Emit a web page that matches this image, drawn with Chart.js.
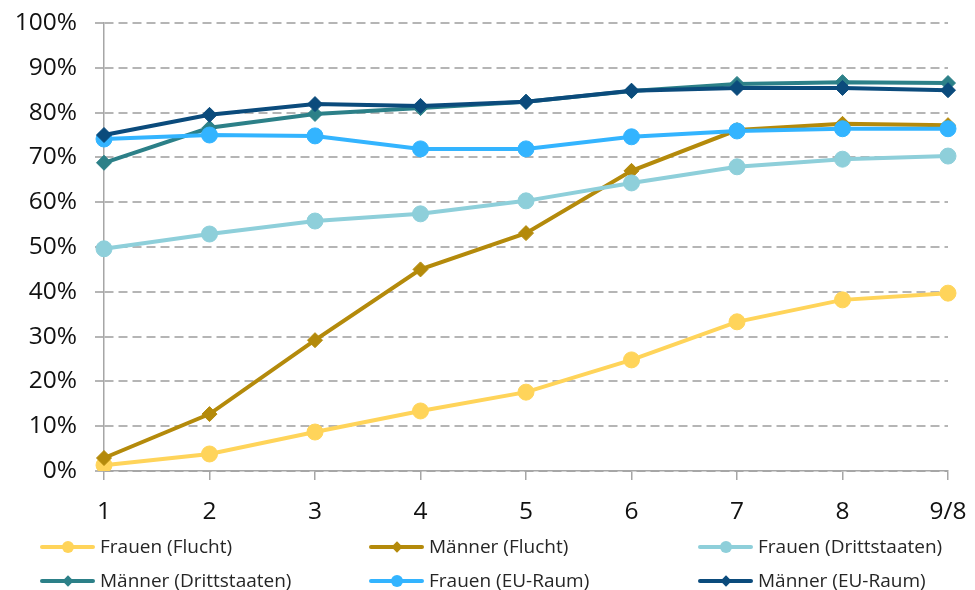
<!DOCTYPE html>
<html>
<head>
<meta charset="utf-8">
<script src="https://cdn.jsdelivr.net/npm/chart.js@4"></script>
<style>
    body { margin: 0; background: #fff; }
    #wrap { position: relative; width: 975px; height: 590px; }
    #legend { position: absolute; left: 0; top: 0; width: 975px; height: 590px; pointer-events: none;
        font-family: "Open Sans", sans-serif; font-size: 19px; color: #262626; }
    .item { position: absolute; height: 24px; line-height: 24px; white-space: nowrap; }
    .sw { position: absolute; left: 0; top: 10px; width: 55px; height: 4px; border-radius: 2px; }
    .mk { position: absolute; }
    .item span.txt { position: absolute; left: 60px; top: -1px; }
</style>
</head>
<body>
<div id="wrap">
    <canvas id="myChart" width="975" height="590"></canvas>
    <div id="legend"></div>
</div>
<script>
"use strict";

// categories and series (share in %)
const labels = ["1", "2", "3", "4", "5", "6", "7", "8", "9/8"];
const seriesNames = [
    "Frauen (Flucht)",
    "Männer (Flucht)",
    "Frauen (Drittstaaten)",
    "Männer (Drittstaaten)",
    "Frauen (EU-Raum)",
    "Männer (EU-Raum)"
];
const frauenFlucht = [1.3, 3.8, 8.7, 13.4, 17.6, 24.8, 33.3, 38.2, 39.7];
const maennerFlucht = [2.9, 12.7, 29.2, 45.0, 53.1, 67.0, 76.1, 77.5, 77.2];
const frauenDritt = [49.6, 52.9, 55.8, 57.4, 60.3, 64.3, 67.9, 69.6, 70.3];
const maennerDritt = [68.8, 76.6, 79.7, 81.0, 82.4, 84.8, 86.4, 86.8, 86.6];
const frauenEU = [74.1, 75.0, 74.8, 71.9, 71.9, 74.6, 75.9, 76.4, 76.4];
const maennerEU = [75.0, 79.5, 81.9, 81.5, 82.4, 84.9, 85.5, 85.5, 85.0];
const yTicks = [0, 10, 20, 30, 40, 50, 60, 70, 80, 90, 100];

const colors = ["#ffd45a", "#b48a0b", "#8ecfda", "#2c8088", "#33b4ff", "#0b4b7c"];
const values = [frauenFlucht, maennerFlucht, frauenDritt, maennerDritt, frauenEU, maennerEU];
const axisColor = "#a6a6a6";
const gridColor = "#b5b5b5";

let datasets = [];
for (let i = 0; i < values.length; i++) {
    const isMen = i % 2 === 1;
    datasets.push({
        label: seriesNames[i],
        data: values[i],
        borderColor: colors[i],
        backgroundColor: colors[i],
        borderWidth: 4,
        pointStyle: isMen ? "rectRot" : "circle",
        pointRadius: isMen ? 7.5 : 8,
        pointBorderWidth: 1,
        pointBorderColor: colors[i],
        pointBackgroundColor: colors[i],
        tension: 0,
        // excel draws the last series on top
        order: values.length - i
    });
}

const tickFont = { family: "'Open Sans', sans-serif", size: 24.5 };

var ctx = document.getElementById("myChart").getContext("2d");
let chart = new Chart(ctx, {
    type: "line",
    data: { labels: labels, datasets: datasets },
    options: {
        responsive: false,
        animation: false,
        layout: { padding: { top: 23, right: 27, bottom: 59, left: 0 } },
        plugins: { legend: { display: false }, tooltip: { enabled: false } },
        scales: {
            x: {
                offset: false,
                grid: {
                    drawOnChartArea: false,
                    drawTicks: true,
                    tickLength: 9,
                    color: axisColor,
                    lineWidth: 1.5
                },
                border: { display: true, color: axisColor, width: 1.5 },
                ticks: { color: "#111", font: tickFont, padding: 17, maxRotation: 0 },
                afterFit: function(scale) {
                    scale.height = 60;
                    scale.paddingLeft = 0;
                    scale.paddingRight = 0;
                }
            },
            y: {
                min: 0,
                max: 100,
                afterBuildTicks: function(scale) {
                    scale.ticks = yTicks.map(v => ({ value: v }));
                },
                grid: {
                    color: c => (c.tick && c.tick.value === 0 ? axisColor : gridColor),
                    lineWidth: 2,
                    tickLength: 9,
                    tickColor: gridColor,
                    tickWidth: 2
                },
                border: { display: true, color: axisColor, width: 1.5, dash: [9, 5] },
                ticks: {
                    color: "#111",
                    font: tickFont,
                    padding: 18,
                    callback: v => v + "%"
                },
                afterFit: function(scale) {
                    scale.width = 104;
                    scale.paddingTop = 0;
                    scale.paddingBottom = 0;
                }
            }
        }
    }
});

// legend in three columns like the original
const legendPos = [
    [40, 535], [369, 535], [698, 535],
    [40, 569], [369, 569], [698, 569]
];
const legendEl = document.getElementById("legend");
for (let i = 0; i < seriesNames.length; i++) {
    const item = document.createElement("div");
    item.className = "item";
    item.style.left = legendPos[i][0] + "px";
    item.style.top = legendPos[i][1] + "px";
    const sw = document.createElement("div");
    sw.className = "sw";
    sw.style.background = colors[i];
    item.appendChild(sw);
    const mk = document.createElement("div");
    mk.className = "mk";
    mk.style.background = colors[i];
    if (i % 2 === 0) {
        mk.style.width = "12px"; mk.style.height = "12px"; mk.style.borderRadius = "50%";
        mk.style.left = "21.5px"; mk.style.top = "6px";
    } else {
        mk.style.width = "8px"; mk.style.height = "8px"; mk.style.transform = "rotate(45deg)";
        mk.style.left = "23.5px"; mk.style.top = "8px";
    }
    item.appendChild(mk);
    const txt = document.createElement("span");
    txt.className = "txt";
    txt.textContent = seriesNames[i];
    item.appendChild(txt);
    legendEl.appendChild(item);
}
</script>
</body>
</html>
